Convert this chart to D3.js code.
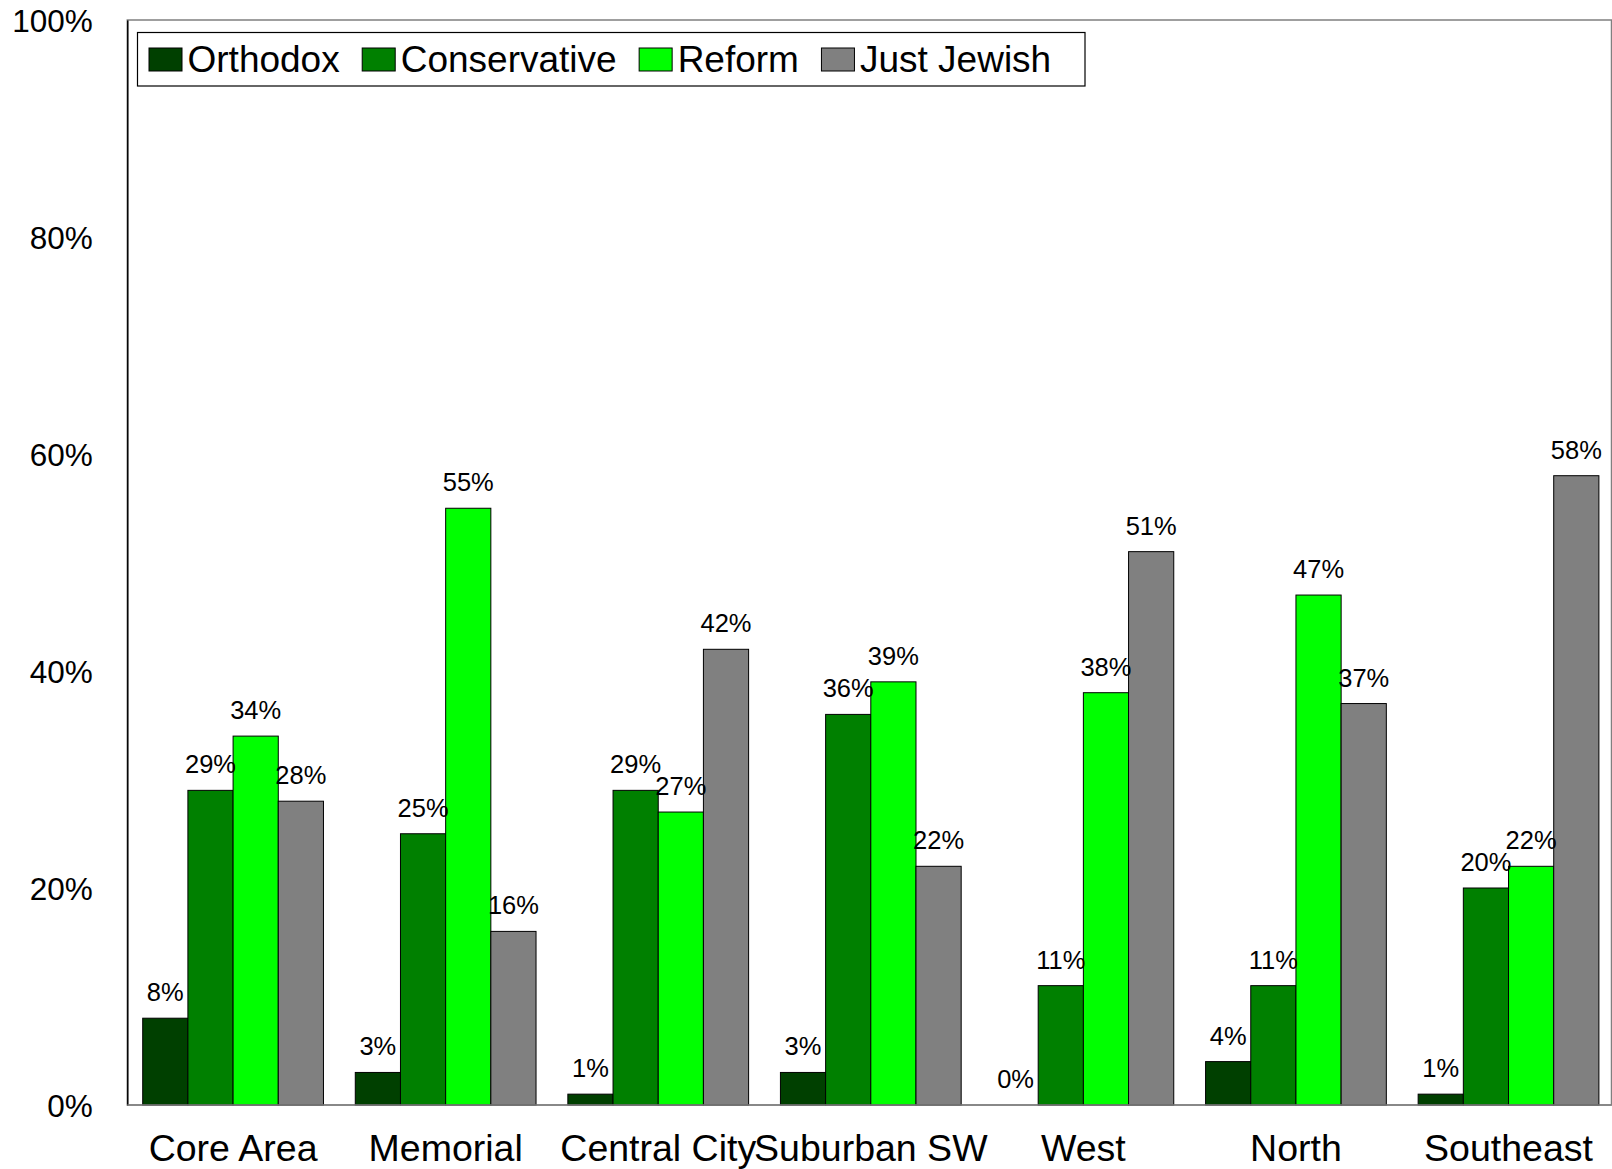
<!DOCTYPE html>
<html><head><meta charset="utf-8">
<script src="https://cdn.jsdelivr.net/npm/d3@7"></script>
<style>body{margin:0;background:#fff}svg{display:block}text{font-family:"Liberation Sans",Arial,sans-serif;fill:#000}</style>
</head><body><svg id="c" width="1612" height="1169"></svg>
<script>
const categories = ["Core Area","Memorial","Central City","Suburban SW","West","North","Southeast"];
const seriesNames = ["Orthodox","Conservative","Reform","Just Jewish"];
const orthodox = [8,3,1,3,0,4,1];
const conservative = [29,25,29,36,11,11,20];
const reform = [34,55,27,39,38,47,22];
const justJewish = [28,16,42,22,51,37,58];
const yTicks = [0,20,40,60,80,100];
const colors = ["#004000","#008000","#00ff00","#808080"];

const seriesValues = [orthodox, conservative, reform, justJewish];
const svg = d3.select("#c");
const L = 127.3, R = 1611.5, T = 20, B = 1105;
const step = 212.43;

const x = d3.scaleBand().domain(categories).range([L, L + 7*step]).paddingInner(0.1497).paddingOuter(0.0725);
const xs = d3.scaleBand().domain(seriesNames).range([0, x.bandwidth()]).padding(0);
const y = d3.scaleLinear().domain([0,100]).range([B, T]);

// frame
svg.append("rect").attr("x",L).attr("y",y(100)).attr("width",R-L).attr("height",B-y(100))
  .attr("fill","none").attr("stroke","#808080").attr("stroke-width",1.5);

// y axis labels
const yAxis = d3.axisLeft(y).tickValues(yTicks).tickSize(0).tickPadding(34.5).tickFormat(d=>d+"%");
const ya = svg.append("g").attr("transform",`translate(${L},0)`).call(yAxis);
ya.select(".domain").attr("stroke","#000").attr("stroke-width",1.5);
ya.selectAll("text").style("font-size","31.5px").attr("fill","#000").attr("dy","0.35em");

// bars
const groups = svg.append("g").selectAll("g").data(categories).join("g")
  .attr("transform", d=>`translate(${x(d)},0)`);
seriesNames.forEach((s, si) => {
  groups.append("rect")
    .attr("x", xs(s)).attr("width", xs.bandwidth())
    .attr("y", (d,i)=>y(seriesValues[si][i]))
    .attr("height", (d,i)=>B - y(seriesValues[si][i]))
    .attr("fill", colors[si]).attr("stroke","#000").attr("stroke-width",1);
});
// x axis line
svg.append("line").attr("x1",L).attr("x2",R).attr("y1",B).attr("y2",B).attr("stroke","#808080").attr("stroke-width",1.5);
// labels
seriesNames.forEach((s, si) => {
  groups.append("text")
    .attr("x", xs(s)+xs.bandwidth()/2)
    .attr("y", (d,i)=>y(seriesValues[si][i]) - 17)
    .attr("text-anchor","middle").style("font-size","25.5px")
    .text((d,i)=>seriesValues[si][i]+"%");
});

// category labels
const xAxis = d3.axisBottom(x).tickSize(0).tickPadding(0);
const xa = svg.append("g").attr("transform",`translate(0,${B})`).call(xAxis);
xa.select(".domain").remove();
xa.selectAll("text").style("font-size","37.5px").attr("fill","#000").attr("y",56).attr("dy",0);

// legend
const lg = svg.append("g");
lg.append("rect").attr("x",137.5).attr("y",32.5).attr("width",947.5).attr("height",53.5)
  .attr("fill","#fff").attr("stroke","#000").attr("stroke-width",1.2);
let cx = 149;
seriesNames.forEach((s, si) => {
  lg.append("rect").attr("x",cx).attr("y",48).attr("width",33).attr("height",23)
    .attr("fill",colors[si]).attr("stroke","#000").attr("stroke-width",1);
  const t = lg.append("text").attr("x",cx+38.5).attr("y",71.5).style("font-size","37px").text(s);
  cx = cx + 38.5 + t.node().getComputedTextLength() + 22.5;
});
</script></body></html>
